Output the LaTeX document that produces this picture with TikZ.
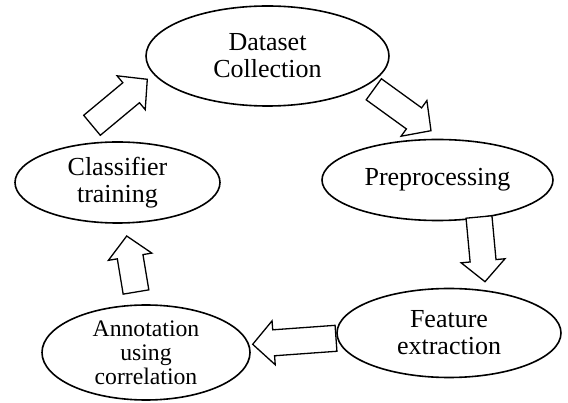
\documentclass[tikz,border=0pt]{standalone}
\usepackage{fontspec}
\setmainfont{Liberation Serif}
\usetikzlibrary{shapes.geometric,calc}

\tikzset{
  stage/.style={ellipse, draw, line width=1.6pt, inner sep=0pt, align=center,
    font=\fontsize{26}{27}\selectfont},
  % hollow block arrow: shaft 26pt wide, head 44pt wide and 21pt long
  bigarrow/.style={draw, line width=1.3pt, fill=white, line join=miter,
    to path={
      ($(\tikztotarget)!21pt!(\tikztostart)$) coordinate (hb)
      ($(\tikztostart)!13pt!-90:(\tikztotarget)$)
      -- ($(hb)!13pt!-90:(\tikztotarget)$)
      -- ($(hb)!22pt!-90:(\tikztotarget)$)
      -- (\tikztotarget)
      -- ($(hb)!22pt!90:(\tikztotarget)$)
      -- ($(hb)!13pt!90:(\tikztotarget)$)
      -- ($(\tikztostart)!13pt!90:(\tikztotarget)$)
      -- cycle}},
}

\begin{document}
\begin{tikzpicture}[x=1pt, y=-1pt]
  \useasboundingbox (0,0) rectangle (568,403);

  % process stages
  \node[stage, minimum width=243pt, minimum height=100pt] (ds) at (267.5,56) {Dataset\\Collection};
  \node[stage, minimum width=231pt, minimum height=81pt] (pre) at (437.5,180) {Preprocessing};
  \node[stage, minimum width=224pt, minimum height=89pt] (fe) at (449,333) {Feature\\extraction};
  \node[stage, minimum width=208pt, minimum height=95pt, inner ysep=-3pt,
        font=\fontsize{23.7}{24}\selectfont] (ann) at (146,352.5) {Annotation\\using\\correlation};
  \node[stage, minimum width=205pt, minimum height=81pt] (cls) at (117.5,182.5) {Classifier\\training};

  % arrow ends between the stages
  \coordinate (a1s) at (92,125.3);   \coordinate (a1t) at (147.3,79.3);
  \coordinate (a2s) at (373.8,89.3); \coordinate (a2t) at (431,130.7);
  \coordinate (a3s) at (479,217);    \coordinate (a3t) at (485,281.7);
  \coordinate (a4s) at (336,338.3);  \coordinate (a4t) at (252.7,344.3);
  \coordinate (a5s) at (136,292);    \coordinate (a5t) at (126.7,236);

  \draw[bigarrow] (a1s) to (a1t);
  \draw[bigarrow] (a2s) to (a2t);
  \draw[bigarrow] (a3s) to (a3t);
  \draw[bigarrow] (a4s) to (a4t);
  \draw[bigarrow] (a5s) to (a5t);
\end{tikzpicture}
\end{document}
